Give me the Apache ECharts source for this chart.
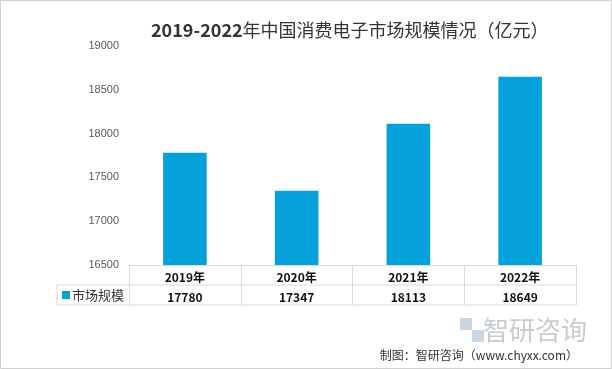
<!DOCTYPE html>
<html><head><meta charset="utf-8">
<script src="https://cdn.jsdelivr.net/npm/echarts@6/dist/echarts.min.js"></script>
<style>html,body{margin:0;padding:0;background:#fff}#c{width:612px;height:369px}</style>
</head><body><div id="c"></div>
<script>
const categories = ['2019年','2020年','2021年','2022年'];
const seriesName = '市场规模';
const values = [17780, 17347, 18113, 18649];
const yTicks = [16500, 17000, 17500, 18000, 18500, 19000];

const chart = echarts.init(document.getElementById('c'));
const gridLeft = 129, gridRight = 36, gridTop = 46, gridBottom = 104;
const axisY = 369 - gridBottom;
const lineCol = '#d9d9d9';
const barColor = '#05A1DA';
const cjk = '"Noto Sans CJK SC", "Noto Sans", sans-serif';

chart.setOption({
  animation: false,
  backgroundColor: '#fff',
  title: {
    text: '{b|2019-2022}{n|年中国消费电子市场规模情况（亿元）}',
    left: 146, top: 16,
    textStyle: {
      rich: {
        b: { fontFamily: cjk, fontSize: 18, fontWeight: 'bold', color: '#333' },
        n: { fontFamily: cjk, fontSize: 18, fontWeight: 'normal', color: '#333' }
      }
    }
  },
  grid: { left: gridLeft, right: gridRight, top: gridTop, bottom: gridBottom },
  xAxis: [{
    type: 'category', data: categories, position: 'bottom',
    axisLine: { show: true, lineStyle: { color: lineCol } },
    axisTick: { show: true, length: 40, lineStyle: { color: lineCol } },
    axisLabel: { margin: 6, fontFamily: cjk, fontSize: 12, fontWeight: 'bold', color: '#111' }
  }, {
    type: 'category', data: values.map(String), position: 'bottom', offset: 20,
    axisLine: { show: false }, axisTick: { show: false },
    axisLabel: { margin: 6, fontFamily: cjk, fontSize: 12, fontWeight: 'bold', color: '#111' }
  }],
  yAxis: {
    type: 'value', min: yTicks[0], max: yTicks[yTicks.length-1], interval: 500,
    axisLine: { show: false }, axisTick: { show: false }, splitLine: { show: false },
    axisLabel: { color: '#595959', fontSize: 11, fontFamily: 'Liberation Sans, sans-serif', margin: 10, formatter: v => String(v) }
  },
  series: [{
    type: 'bar', name: seriesName, data: values, barWidth: '39%',
    itemStyle: { color: barColor }
  }],
  graphic: [
    { type: 'rect', shape: { x: 0.5, y: 0.5, width: 611, height: 368 }, style: { fill: 'none', stroke: '#d0d0d0', lineWidth: 1 }, silent: true },
    { type: 'line', shape: { x1: 57, y1: axisY + 20, x2: 612 - gridRight, y2: axisY + 20 }, style: { stroke: lineCol, lineWidth: 1 } },
    { type: 'line', shape: { x1: 57, y1: axisY + 40, x2: 612 - gridRight, y2: axisY + 40 }, style: { stroke: lineCol, lineWidth: 1 } },
    { type: 'line', shape: { x1: 57, y1: axisY + 20, x2: 57, y2: axisY + 40 }, style: { stroke: lineCol, lineWidth: 1 } },
    { type: 'rect', shape: { x: 62, y: axisY + 26, width: 8, height: 8 }, style: { fill: barColor } },
    { type: 'text', x: 72, y: axisY + 30, style: { text: seriesName, font: '13px ' + cjk, fill: '#333', textVerticalAlign: 'middle' } },
    { type: 'text', x: 535, y: 330, style: { text: '智研咨询', font: '26px ' + cjk, fill: '#c8ccd0', textAlign: 'center', textVerticalAlign: 'middle' } },
    { type: 'text', x: 460, y: 318, style: { text: '▚', font: '24px ' + cjk, fill: '#c9d6e2' } },
    { type: 'text', x: 578, y: 355, style: { text: '制图：智研咨询（www.chyxx.com）', font: '12px ' + cjk, fill: '#333', textAlign: 'right', textVerticalAlign: 'middle' } }
  ]
});
</script></body></html>
